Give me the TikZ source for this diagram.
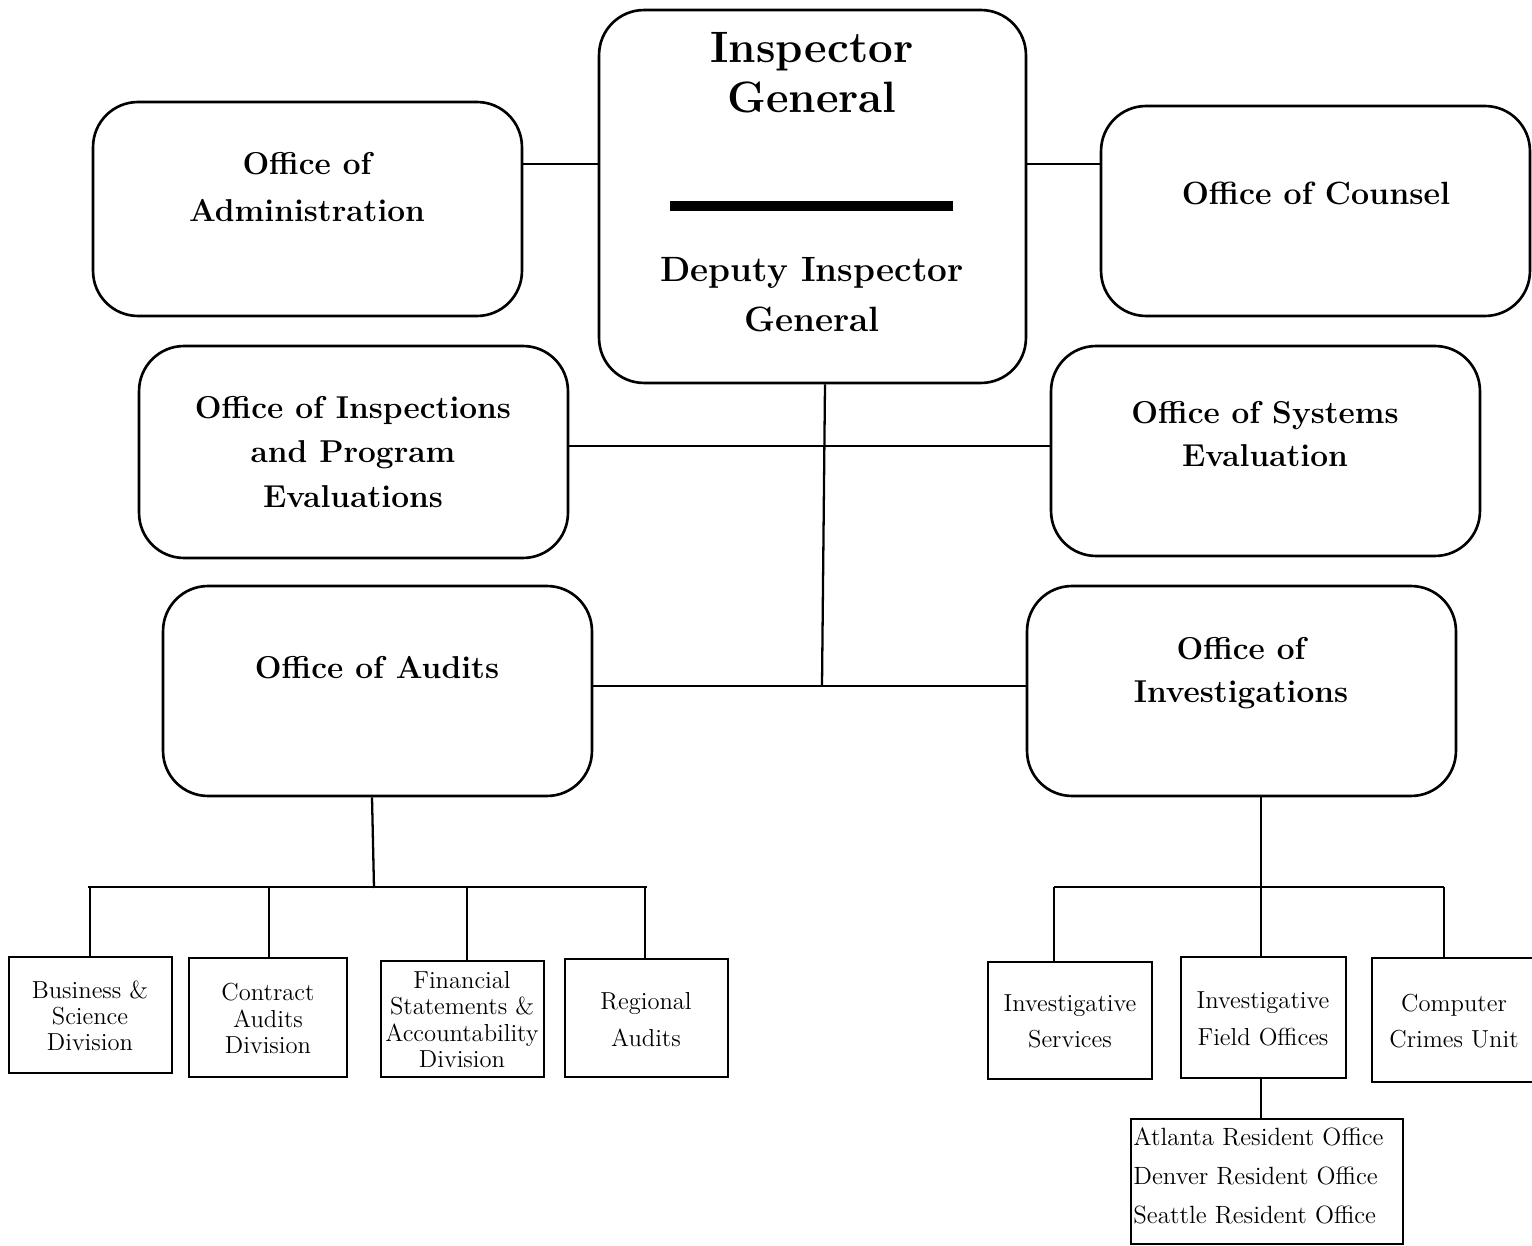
\documentclass[tikz,border=0pt]{standalone}
\usepackage{fontspec}
\begin{document}
\begin{tikzpicture}[x=0.02cm,y=-0.02cm,
  bigbox/.style={draw,line width=1.5pt,rounded corners=0.9cm,inner sep=0pt},
  smallbox/.style={draw,line width=1.6pt,inner sep=0pt},
  conn/.style={line width=1.3pt},
  bigtxt/.style={font=\fontsize{18}{26}\selectfont\bfseries,align=center,inner sep=0pt},
  smalltxt/.style={font=\fontsize{14}{14.9}\selectfont,align=center,inner sep=0pt},
  smalltxtb/.style={font=\fontsize{14}{20.7}\selectfont,align=center,inner sep=0pt}]
\useasboundingbox (0,0) rectangle (1532,1246);
% big boxes
\node[bigbox,minimum width=8.54cm,minimum height=7.46cm] (ig) at (812.5,196.5) {};
\node[bigbox,minimum width=8.58cm,minimum height=4.28cm] (adm) at (307.5,209) {};
\node[bigbox,minimum width=8.58cm,minimum height=4.2cm] (cou) at (1315.5,211) {};
\node[bigbox,minimum width=8.58cm,minimum height=4.24cm] (ins) at (353.5,452) {};
\node[bigbox,minimum width=8.58cm,minimum height=4.2cm] (sys) at (1265.5,451) {};
\node[bigbox,minimum width=8.58cm,minimum height=4.2cm] (aud) at (377.5,691) {};
\node[bigbox,minimum width=8.58cm,minimum height=4.2cm] (inv) at (1241.5,691) {};
% big texts
\node[bigtxt,font=\fontsize{25}{28.3}\selectfont\bfseries] (igt) at (812,73) {Inspector\\General};
\draw[line width=5.6pt] (670,206) -- (953,206);
\node[bigtxt,font=\fontsize{20}{28.3}\selectfont\bfseries] (digt) at (812,295) {Deputy Inspector\\General};
\node[bigtxt,font=\fontsize{18}{27.2}\selectfont\bfseries] (admt) at (307,187) {Office of\\Administration};
\node[bigtxt,font=\fontsize{18.3}{26}\selectfont\bfseries] (cout) at (1316,193) {Office of Counsel};
\node[bigtxt,font=\fontsize{18}{25.5}\selectfont\bfseries] (inst) at (353,452) {Office of Inspections\\and Program\\Evaluations};
\node[bigtxt,font=\fontsize{18}{24}\selectfont\bfseries] (syst) at (1265,434) {Office of Systems\\Evaluation};
\node[bigtxt] (audt) at (377,668) {Office of Audits};
\node[bigtxt,font=\fontsize{18}{24.4}\selectfont\bfseries] (invt) at (1241,673.5) {Office of\\Investigations};
% small boxes
\node[smallbox,minimum width=3.26cm,minimum height=2.32cm] (bus) at (90.5,1015) {};
\node[smallbox,minimum width=3.16cm,minimum height=2.38cm] (con) at (268,1017.5) {};
\node[smallbox,minimum width=3.26cm,minimum height=2.32cm] (fin) at (462.5,1019) {};
\node[smallbox,minimum width=3.26cm,minimum height=2.36cm] (reg) at (646.5,1018) {};
\node[smallbox,minimum width=3.28cm,minimum height=2.34cm] (invs) at (1070,1020.5) {};
\node[smallbox,minimum width=3.3cm,minimum height=2.42cm] (fld) at (1263.5,1017.5) {};
\node[smallbox,minimum width=3.28cm,minimum height=2.48cm] (cmp) at (1454,1020) {};
\node[smallbox,minimum width=5.44cm,minimum height=2.5cm] (res) at (1267,1181.5) {};
% small texts
\node[smalltxt] (bust) at (90,1016) {Business \&\\Science\\Division};
\node[smalltxt] (cont) at (268,1018.5) {Contract\\Audits\\Division};
\node[smalltxt] (fint) at (462,1019.5) {Financial\\Statements \&\\Accountability\\Division};
\node[smalltxtb] (regt) at (646,1019.5) {Regional\\Audits};
\node[smalltxtb] (invst) at (1070,1021.5) {Investigative\\Services};
\node[smalltxtb] (fldt) at (1263,1019) {Investigative\\Field Offices};
\node[smalltxtb] (cmpt) at (1454,1021) {Computer\\Crimes Unit};
\node[smalltxt,font=\fontsize{14.2}{22}\selectfont,align=left,anchor=west] (rest) at (1133,1176) {Atlanta Resident Office\\Denver Resident Office\\Seattle Resident Office};
% connectors
\draw[conn] (adm.east |- 0,164) -- (ig.west |- 0,164);
\draw[conn] (ig.east |- 0,164) -- (cou.west |- 0,164);
\coordinate (trunk) at (822,686);
\draw[conn] (ig.south -| 825,0) -- (trunk);
\draw[conn] (ins.east |- 0,446) -- (sys.west |- 0,446);
\draw[conn] (aud.east |- 0,686) -- (inv.west |- 0,686);
% audits subtree
\coordinate (ab) at (374,888);
\coordinate (abl) at (88,887);
\coordinate (abr) at (647,887);
\draw[conn] (aud.south -| 372,0) -- (ab);
\draw[conn] (abl) -- (abr);
\draw[conn] (90,887) -- (bus.north -| 90,0);
\draw[conn] (269,887) -- (con.north -| 269,0);
\draw[conn] (467,887) -- (fin.north -| 467,0);
\draw[conn] (645,887) -- (reg.north -| 645,0);
% investigations subtree
\draw[conn] (inv.south -| 1261,0) -- (fld.north -| 1261,0);
\coordinate (ibl) at (1054,887);
\coordinate (ibr) at (1444,887);
\draw[conn] (ibl) -- (ibr);
\draw[conn] (ibl) -- (invs.north -| 1054,0);
\draw[conn] (ibr) -- (cmp.north -| 1444,0);
\draw[conn] (fld.south -| 1261,0) -- (res.north -| 1261,0);
\end{tikzpicture}
\end{document}
